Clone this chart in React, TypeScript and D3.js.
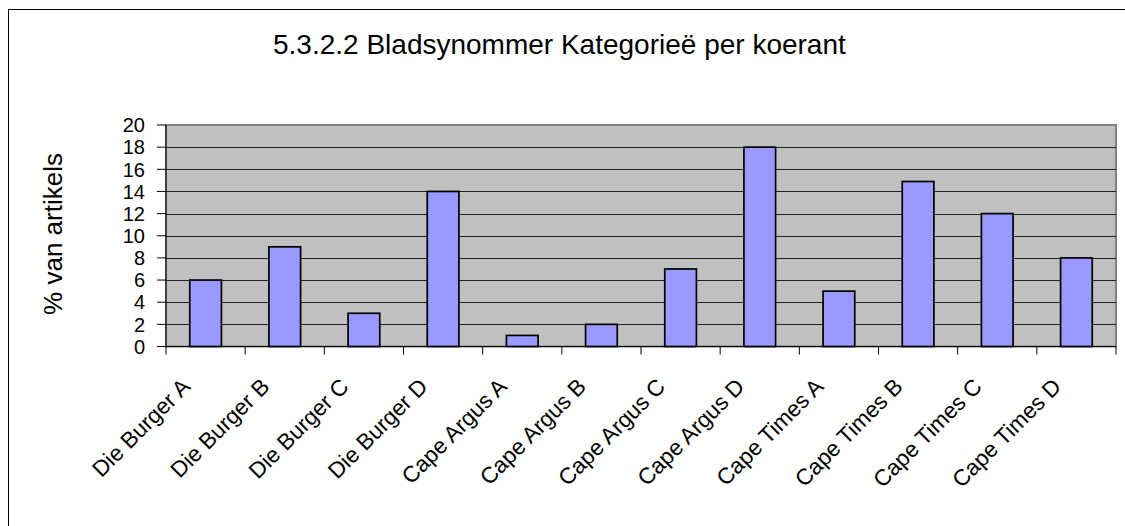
import React from "react";
import * as d3 from "d3";

const categories = [
  "Die Burger A", "Die Burger B", "Die Burger C", "Die Burger D",
  "Cape Argus A", "Cape Argus B", "Cape Argus C", "Cape Argus D",
  "Cape Times A", "Cape Times B", "Cape Times C", "Cape Times D",
];
const values = [6, 9, 3, 14, 1, 2, 7, 18, 5, 14.9, 12, 8];
const yTicks = [0, 2, 4, 6, 8, 10, 12, 14, 16, 18, 20];
const title = "5.3.2.2 Bladsynommer Kategorieë per koerant";
const yTitle = "% van artikels";

const W = 1125, H = 526;
const plot = { left: 166, right: 1116, top: 125, bottom: 346.5 };
const font = "Arial, 'Liberation Sans', sans-serif";

export default function App() {
  const x = d3.scaleBand<string>().domain(categories).range([plot.left, plot.right]).paddingInner(0.6).paddingOuter(0.3);
  const xCat = d3.scaleBand<string>().domain(categories).range([plot.left, plot.right]);
  const y = d3.scaleLinear().domain([0, 20]).range([plot.bottom, plot.top]);
  const boundaries = d3.range(categories.length + 1).map((i) => plot.left + i * xCat.step());
  return (
    <svg width={W} height={H} style={{ position: "absolute", left: 0, top: 0, background: "#fff" }}>
      <rect x={8.5} y={9.5} width={1200} height={600} fill="#fff" stroke="#000" strokeWidth={1} />
      <text x={273} y={54} textAnchor="start" fontFamily={font} fontSize={28} fill="#000">{title}</text>
      <rect x={plot.left} y={plot.top} width={plot.right - plot.left} height={plot.bottom - plot.top} fill="#C0C0C0" stroke="#808080" strokeWidth={2} />
      {yTicks.filter((t) => t > 0 && t < 20).map((t) => (
        <line key={"g" + t} x1={plot.left} x2={plot.right} y1={Math.round(y(t)) + 0.5} y2={Math.round(y(t)) + 0.5} stroke="#222" strokeWidth={1} />
      ))}
      {categories.map((c, i) => (
        <rect key={c} x={x(c)} y={y(values[i])} width={x.bandwidth()} height={plot.bottom - y(values[i])} fill="#9999FF" stroke="#000" strokeWidth={1.7} />
      ))}
      <line x1={plot.left} x2={plot.left} y1={plot.top} y2={plot.bottom} stroke="#000" strokeWidth={1} />
      <line x1={plot.left} x2={plot.right} y1={plot.bottom} y2={plot.bottom} stroke="#000" strokeWidth={1} />
      {yTicks.map((t) => (
        <g key={"y" + t}>
          <line x1={plot.left - 9} x2={plot.left} y1={y(t)} y2={y(t)} stroke="#000" strokeWidth={1} />
          <text x={145} y={y(t)} dy="0.36em" textAnchor="end" fontFamily={font} fontSize={20} fill="#000">{t}</text>
        </g>
      ))}
      {boundaries.map((bx, i) => (
        <line key={"xt" + i} x1={bx} x2={bx} y1={plot.bottom} y2={plot.bottom + 8} stroke="#000" strokeWidth={1} />
      ))}
      {categories.map((c) => {
        const cx = (xCat(c) as number) + xCat.bandwidth() / 2;
        return (
          <text key={"l" + c} transform={`translate(${cx - 14},${388}) rotate(-45)`} textAnchor="end" fontFamily={font} fontSize={22.5} fill="#000">{c}</text>
        );
      })}
      <text transform={`translate(62,234) rotate(-90)`} textAnchor="middle" fontFamily={font} fontSize={26} fill="#000">{yTitle}</text>
    </svg>
  );
}
